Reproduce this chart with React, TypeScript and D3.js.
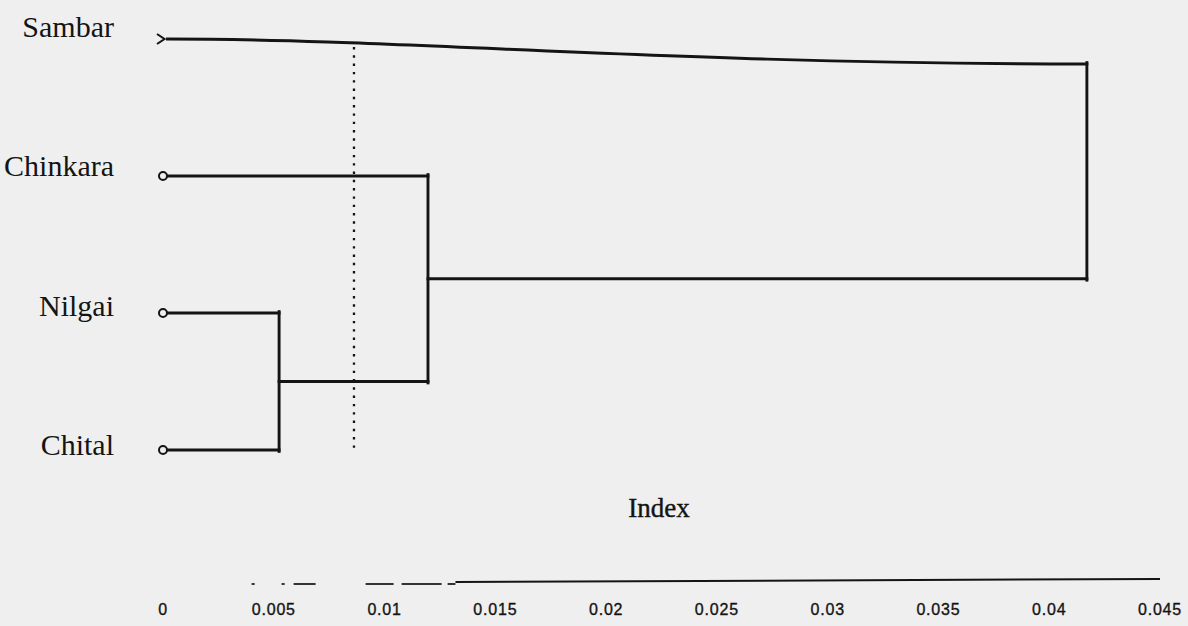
import React from "react";
import * as d3 from "d3";

// ---- data ----
const leaves = ["Sambar", "Chinkara", "Nilgai", "Chital"];
const leafMarkers = ["chevron", "circle", "circle", "circle"];
const clusterNames = ["Nilgai+Chital", "Chinkara+NC", "All"];
const clusterChildren = [
  ["Nilgai", "Chital"],
  ["Chinkara", "Nilgai+Chital"],
  ["Sambar", "Chinkara+NC"],
];
const clusterHeights = [0.00524, 0.01196, 0.0417];
const cutoffValue = 0.00862;
const tickValues = [0, 0.005, 0.01, 0.015, 0.02, 0.025, 0.03, 0.035, 0.04, 0.045];
const tickLabels = ["0", "0.005", "0.01", "0.015", "0.02", "0.025", "0.03", "0.035", "0.04", "0.045"];
const axisTitle = "Index";

// ---- layout / style ----
const W = 1188;
const H = 626;
const INK = "#141414";
const BG = "#efefef";
const SAMBAR_SAG = 25; // scan page curvature on the top branch

export default function App() {
  const x = d3.scaleLinear().domain([0, 0.045]).range([163, 1160]);
  const yLeaf = d3.scalePoint<string>().domain(leaves).range([39, 450]);
  const yLabel = d3.scalePoint<string>().domain(leaves).range([37, 455]);

  // node positions
  const pos: Record<string, { x: number; y: number; yEnd: number }> = {};
  leaves.forEach((l) => {
    const y = yLeaf(l)!;
    pos[l] = { x: x(0), y, yEnd: l === "Sambar" ? y + SAMBAR_SAG : y };
  });
  clusterNames.forEach((c, i) => {
    const [a, b] = clusterChildren[i];
    const ym = (pos[a].y + pos[b].y) / 2;
    pos[c] = { x: x(clusterHeights[i]), y: ym, yEnd: ym };
  });

  const paths: string[] = [];
  clusterNames.forEach((c, i) => {
    const px = pos[c].x;
    const ends: number[] = [];
    clusterChildren[i].forEach((ch) => {
      const n = pos[ch];
      const startX = leaves.includes(ch) ? n.x + 4.5 : n.x;
      const p = d3.path();
      p.moveTo(startX, n.y);
      if (n.yEnd !== n.y) {
        const dx = px - startX;
        p.bezierCurveTo(startX + dx * 0.26, n.y, startX + dx * 0.55, n.yEnd, px, n.yEnd);
      } else {
        p.lineTo(px, n.y);
      }
      paths.push(p.toString());
      ends.push(n.yEnd);
    });
    const v = d3.path();
    v.moveTo(px, Math.min(...ends) - 1.4);
    v.lineTo(px, Math.max(...ends) + 1.4);
    paths.push(v.toString());
  });

  const axisY = 582;
  const xc = x(cutoffValue);

  return (
    <div style={{ position: "fixed", left: 0, top: 0, width: W, height: H }}>
      <svg width={W} height={H} viewBox={`0 0 ${W} ${H}`} style={{ display: "block" }}>
        <rect x={0} y={0} width={W} height={H} fill={BG} />

        {/* cut-off dotted line */}
        <line
          x1={xc}
          x2={xc}
          y1={47}
          y2={452}
          stroke={INK}
          strokeWidth={2.3}
          strokeDasharray="2.4 5.9"
        />

        {/* dendrogram */}
        {paths.map((d, i) => (
          <path key={i} d={d} fill="none" stroke={INK} strokeWidth={2.9} strokeLinecap="square" />
        ))}

        {/* leaf markers */}
        {leaves.map((l, i) => {
          const px = pos[l].x;
          const py = pos[l].y;
          if (leafMarkers[i] === "circle") {
            return <circle key={l} cx={px} cy={py} r={4} fill={BG} stroke={INK} strokeWidth={2} />;
          }
          return (
            <path
              key={l}
              d={`M${px - 6},${py - 5} L${px + 1.5},${py} L${px - 6},${py + 5}`}
              fill="none"
              stroke={INK}
              strokeWidth={2.1}
            />
          );
        })}

        {/* leaf labels */}
        {leaves.map((l) => (
          <text
            key={l}
            x={114}
            y={yLabel(l)}
            textAnchor="end"
            fontFamily="'Liberation Serif', 'DejaVu Serif', serif"
            fontSize={30}
            fill={INK}
          >
            {l}
          </text>
        ))}

        {/* axis title */}
        <text
          x={659}
          y={517}
          textAnchor="middle"
          fontFamily="'Liberation Serif', 'DejaVu Serif', serif"
          fontSize={27}
          fill={INK}
          stroke={INK}
          strokeWidth={0.4}
        >
          {axisTitle}
        </text>

        {/* axis line (broken on the left as in the scan) */}
        <line
          x1={x(0.004)}
          x2={x(0.0132)}
          y1={axisY + 2}
          y2={axisY + 2}
          stroke={INK}
          strokeWidth={1.8}
          strokeDasharray="3 27 3 9 22 50 28 8 40 6 30 10"
          opacity={0.85}
        />
        <line x1={x(0.0132)} x2={x(0.045)} y1={axisY} y2={axisY - 3} stroke={INK} strokeWidth={2} />

        {/* tick labels */}
        {tickValues.map((t, i) => (
          <text
            key={t}
            x={x(t)}
            y={615}
            textAnchor="middle"
            fontFamily="'Liberation Sans', Arial, sans-serif"
            fontSize={16}
            letterSpacing={0.8}
            fill={INK}
            stroke={INK}
            strokeWidth={0.35}
          >
            {tickLabels[i]}
          </text>
        ))}
      </svg>
    </div>
  );
}
